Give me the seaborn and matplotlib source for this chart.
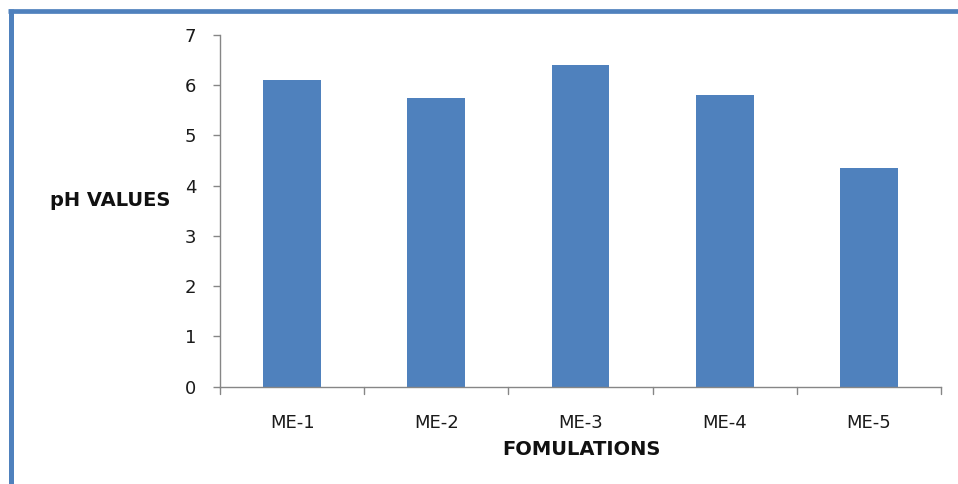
import matplotlib
matplotlib.use("Agg")
import matplotlib.pyplot as plt
import seaborn as sns
import pandas as pd
from matplotlib.lines import Line2D

formulations = ["ME-1", "ME-2", "ME-3", "ME-4", "ME-5"]
ph_values = [6.11, 5.75, 6.41, 5.81, 4.35]
y_ticks = [0, 1, 2, 3, 4, 5, 6, 7]

sns.set_theme(style="white")
plt.rcParams["font.family"] = ["DejaVu Sans"]

df = pd.DataFrame({"formulation": formulations, "ph": ph_values})

W, H = 958, 484
fig = plt.figure(figsize=(W / 100, H / 100), dpi=100)
ax = fig.add_axes([220 / W, 1 - 386.7 / H, (941 - 220) / W, (386.7 - 35) / H])

bar_color = "#4F81BD"
axis_color = "#868686"
text_color = "#1a1a1a"

sns.barplot(data=df, x="formulation", y="ph", color=bar_color, width=0.4,
            saturation=1, ax=ax)
for p in ax.patches:
    p.set_edgecolor("none")

ax.set_xlim(-0.5, len(formulations) - 0.5)
ax.set_ylim(0, 7)
ax.set_yticks(y_ticks)
ax.set_yticklabels([str(t) for t in y_ticks])

for side in ["top", "right"]:
    ax.spines[side].set_visible(False)
for side in ["left", "bottom"]:
    ax.spines[side].set_color(axis_color)
    ax.spines[side].set_linewidth(1.0)

ax.tick_params(axis="y", which="major", left=True, length=5, width=1,
               color=axis_color, labelsize=13, labelcolor=text_color, pad=12)
ax.tick_params(axis="x", which="major", bottom=False, labelsize=13,
               labelcolor=text_color, pad=14)

# category separator ticks on the x-axis
for b in range(len(formulations) + 1):
    ax.add_line(Line2D([b - 0.5, b - 0.5], [0, -0.15], color=axis_color, lw=1,
                       clip_on=False))

ax.set_xlabel("")
ax.set_ylabel("")
fig.text(110 / W, 1 - 200 / H, "pH VALUES", ha="center", va="center",
         fontsize=14, fontweight="bold", color="#111111")
fig.text(581 / W, 1 - 449.5 / H, "FOMULATIONS", ha="center", va="center",
         fontsize=14, fontweight="bold", color="#111111")

# frame lines along the top and left edges
fig.add_artist(Line2D([8 / W, 1.0], [1 - 11 / H, 1 - 11 / H], color=bar_color,
                      lw=3.4, transform=fig.transFigure, solid_capstyle="butt"))
fig.add_artist(Line2D([10.5 / W, 10.5 / W], [0, 1 - 9 / H], color=bar_color,
                      lw=3.6, transform=fig.transFigure, solid_capstyle="butt"))

fig.savefig("out.png", dpi=100)
